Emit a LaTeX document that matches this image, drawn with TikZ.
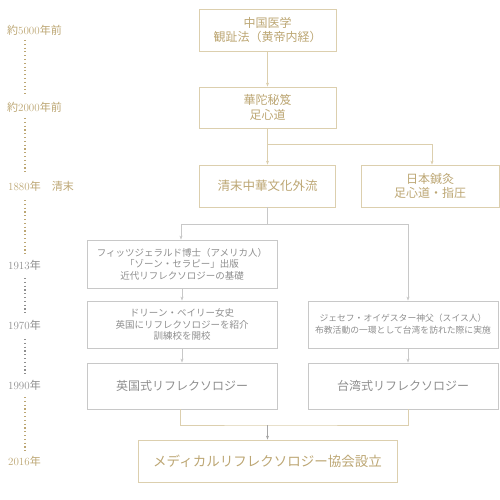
\documentclass[tikz,border=0pt]{standalone}
\usepackage{fontspec}
\newfontfamily\jp{Noto Sans CJK JP}
\usetikzlibrary{arrows.meta}
\definecolor{tanline}{HTML}{DCCFAE}
\definecolor{tantext}{HTML}{BCA673}
\definecolor{grayline}{HTML}{C8C8C8}
\definecolor{graytext}{HTML}{8E8E8E}
\definecolor{grayarrow}{HTML}{A6A6A6}
\tikzset{
  tanbox/.style={draw=tanline,line width=0.8pt,text=tantext,align=center,inner sep=0pt,font=\jp\fontsize{12}{14.5}\selectfont},
  graybox/.style={draw=grayline,line width=0.8pt,text=graytext,align=center,inner sep=0pt,font=\jp\fontsize{9.5}{11.5}\selectfont},
  link/.style={line width=0.8pt},
  tip/.style={-{Stealth[length=4pt,width=3pt]}},
  era/.style={anchor=west,inner sep=0pt,font=\fontsize{11}{13}\selectfont},
  dots/.style={line width=1.1pt,dash pattern=on 1.1pt off 2.7pt}
}
\begin{document}
\begin{tikzpicture}[x=1pt,y=-1pt]
\useasboundingbox (0,0) rectangle (500,500);
% time line on the left
\node[era,text=tantext] (t1) at (7,30) {{\jp 約}5000{\jp 年前}};
\node[era,text=tantext] (t2) at (7,107) {{\jp 約}2000{\jp 年前}};
\node[era,text=tantext] (t3) at (8,186) {1880{\jp 年　清末}};
\node[era,text=graytext] (t4) at (8,265) {1913{\jp 年}};
\node[era,text=graytext] (t5) at (8,325) {1970{\jp 年}};
\node[era,text=graytext] (t6) at (8,385) {1990{\jp 年}};
\node[era,text=tantext] (t7) at (8,461) {2016{\jp 年}};
\draw[dots,tantext] (25,40) -- (25,94);
\draw[dots,tantext] (25,118) -- (25,174);
\draw[dots,tantext] (25,200) -- (25,254);
\draw[dots,graytext] (25,278) -- (25,313);
\draw[dots,graytext] (25,339) -- (25,374);
\draw[dots,tantext] (25,397) -- (25,451);
% boxes
\node[tanbox,minimum width=137pt,minimum height=42pt] (b1) at (267.5,30) {中国医学\\観趾法（黄帝内経）};
\node[tanbox,minimum width=137pt,minimum height=41pt] (b2) at (267.5,107.5) {華陀秘笈\\足心道};
\node[tanbox,minimum width=136pt,minimum height=42pt,font=\jp\fontsize{12.5}{15}\selectfont] (b3) at (267.5,186) {清末中華文化外流};
\node[tanbox,minimum width=138pt,minimum height=42pt] (b4) at (430,186) {日本鍼灸\\足心道・指圧};
\node[graybox,minimum width=190pt,minimum height=48pt] (b5) at (182,264) {フィッツジェラルド博士（アメリカ人）\\「ゾーン・セラピー」出版\\近代リフレクソロジーの基礎};
\node[graybox,minimum width=190pt,minimum height=47pt] (b6) at (182,324.5) {ドリーン・ベイリー女史\\英国にリフレクソロジーを紹介\\訓練校を開校};
\node[graybox,minimum width=190pt,minimum height=47pt,font=\jp\fontsize{8.8}{12}\selectfont] (b7) at (403,324.5) {ジェセフ・オイゲスター神父（スイス人）\\布教活動の一環として台湾を訪れた際に実施};
\node[graybox,minimum width=190pt,minimum height=46pt,font=\jp\fontsize{12}{14}\selectfont] (b8) at (182,386) {英国式リフレクソロジー};
\node[graybox,minimum width=190pt,minimum height=46pt,font=\jp\fontsize{12}{14}\selectfont] (b9) at (403,386) {台湾式リフレクソロジー};
\node[tanbox,minimum width=259pt,minimum height=42pt,font=\jp\fontsize{13.5}{16}\selectfont] (b10) at (267.5,461) {メディカルリフレクソロジー協会設立};
% connectors
\coordinate (j1) at (267.5,144);
\coordinate (j2) at (267.5,224);
\coordinate (j3) at (267.5,425);
\draw[link,tanline,tip] (b1) -- (b2);
\draw[link,tanline] (b2) -- (j1);
\draw[link,tanline,tip] (j1) -- (b3);
\draw[link,tanline,tip] (j1) -| ([xshift=2pt]b4.north);
\draw[link,grayline] (b3) -- (j2);
\draw[link,grayline,tip] (j2) -| ([xshift=-1pt]b5.north);
\draw[link,grayline,tip] (j2) -| ([xshift=5pt]b7.north);
\draw[link,grayline,tip] (b5) -- (b6);
\draw[link,grayline,tip] (b6) -- (b8);
\draw[link,grayline,tip] ([xshift=5pt]b7.south) -- ([xshift=5pt]b9.north);
\draw[link,tanline] ([xshift=-2pt]b8.south) |- (j3) -| ([xshift=5pt]b9.south);
\draw[link,grayarrow,tip] (j3) -- (b10);
\end{tikzpicture}
\end{document}
